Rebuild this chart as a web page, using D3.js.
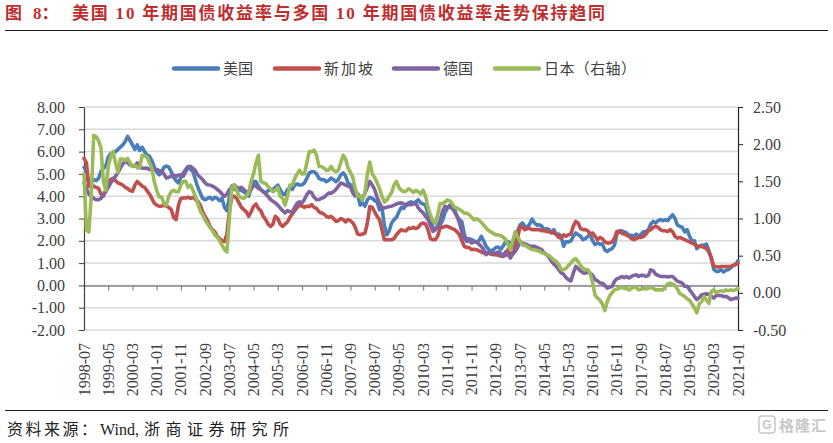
<!DOCTYPE html>
<html><head><meta charset="utf-8">
<script src="https://cdn.jsdelivr.net/npm/d3@7"></script>
<style>
html,body{margin:0;padding:0;background:#fff;}
svg{display:block;}
</style></head><body>
<svg id="chart" width="833" height="443"></svg>
<script>
// ---------------- data ----------------
const seriesNames = ["美国", "新加坡", "德国", "日本（右轴）"];
const seriesColors = ["#4a7ebb", "#c0504d", "#8064a2", "#9bbb59"];
const tickLabels = ["1998-07","1999-05","2000-03","2001-01","2001-11","2002-09","2003-07","2004-05","2005-03","2006-01","2006-11","2007-09","2008-07","2009-05","2010-03","2011-01","2011-11","2012-09","2013-07","2014-05","2015-03","2016-01","2016-11","2017-09","2018-07","2019-05","2020-03","2021-01"];
const leftTicks = [-2, -1, 0, 1, 2, 3, 4, 5, 6, 7, 8];
const rightTicks = [-0.5, 0, 0.5, 1, 1.5, 2, 2.5];

// monthly values, 1998-07 .. 2021-01
const us = [
  5.3, 5.1, 4.5, 4.6, 4.75, 4.7,
  4.8, 5.1, 5.25, 5.35, 5.75, 5.9, 5.95, 6.0, 6.1, 6.2, 6.3, 6.45,
  6.68, 6.5, 6.3, 6.1, 6.3, 6.05, 6.2, 6.0, 5.85, 5.8, 5.6, 5.3,
  5.1, 4.96, 5.05, 5.3, 5.35, 5.3, 5.1, 4.85, 4.7, 4.6, 4.85, 5.04,
  5.2, 5.34, 5.2, 5.1, 4.74, 4.4, 4.14, 3.9, 3.84, 3.9, 3.95, 3.85,
  3.95, 3.9, 3.8, 3.9, 3.5, 3.35, 3.95, 4.45, 4.3, 4.35, 4.3, 4.25,
  4.2, 4.1, 4.0, 4.4, 4.66, 4.66, 4.45, 4.3, 4.2, 4.15, 4.25, 4.3,
  4.3, 4.4, 4.5, 4.3, 4.1, 4.07, 4.3, 4.35, 4.3, 4.5, 4.55, 4.5,
  4.5, 4.6, 4.8, 5.04, 5.11, 5.1, 5.0, 4.8, 4.74, 4.75, 4.65, 4.7,
  4.81, 4.75, 4.65, 4.75, 4.96, 5.05, 4.9, 4.6, 4.51, 4.5, 4.14, 4.05,
  3.6, 3.7, 3.55, 3.84, 3.95, 3.9, 3.8, 3.75, 3.39, 3.5, 2.7, 2.27,
  2.45, 2.8, 2.95, 3.05, 3.3, 3.5, 3.45, 3.6, 3.7, 3.75, 3.7, 3.75,
  3.84, 3.7, 3.65, 3.6, 3.2, 2.95, 2.6, 2.5, 2.65, 2.7, 2.9, 3.25,
  3.45, 3.6, 3.45, 3.4, 3.1, 2.95, 2.85, 2.3, 1.97, 2.1, 2.05, 2.0,
  1.95, 2.0, 2.2, 2.0, 1.75, 1.62, 1.52, 1.6, 1.7, 1.72, 1.62, 1.75,
  1.95, 1.97, 1.9, 1.72, 2.1, 2.45, 2.7, 2.8, 2.65, 2.6, 2.75, 2.97,
  2.8, 2.7, 2.72, 2.65, 2.5, 2.55, 2.5, 2.35, 2.5, 2.27, 2.3, 2.2,
  1.75, 1.97, 1.95, 2.0, 2.2, 2.35, 2.27, 2.2, 2.05, 2.1, 2.2, 2.27,
  2.0, 1.83, 1.9, 1.85, 1.85, 1.6, 1.52, 1.6, 1.65, 1.8, 2.3, 2.45,
  2.45, 2.4, 2.35, 2.25, 2.25, 2.2, 2.3, 2.2, 2.3, 2.4, 2.42, 2.5,
  2.75, 2.87, 2.8, 2.9, 2.95, 2.9, 2.95, 2.9, 3.05, 3.17, 3.0, 2.7,
  2.65, 2.6, 2.4, 2.5, 2.2, 2.0, 2.0, 1.65, 1.75, 1.8, 1.8, 1.85,
  1.55, 1.2, 0.72, 0.63, 0.63, 0.7, 0.6, 0.68, 0.7, 0.8, 0.88, 0.95,
  1.1
];
const singapore = [
  5.7, 5.5, 4.45, 4.4, 4.45, 4.4,
  4.35, 4.1, 4.0, 4.3, 4.55, 4.75, 4.8, 4.7, 4.6, 4.55, 4.5, 4.4,
  4.35, 4.25, 4.22, 4.5, 4.66, 4.55, 4.45, 4.4, 4.25, 4.1, 3.9, 3.69,
  3.6, 3.55, 3.55, 3.6, 3.55, 3.5, 3.4, 3.05, 2.95, 3.6, 3.9, 3.92,
  3.92, 3.95, 3.9, 3.95, 3.85, 3.77, 3.6, 3.3, 3.09, 2.9, 2.65, 2.5,
  2.4, 2.2, 2.1, 2.0, 1.97, 2.3, 3.3, 3.95, 4.0, 3.9, 3.7, 3.5,
  3.4, 3.3, 3.1, 3.3, 3.55, 3.65, 3.45, 3.35, 3.1, 2.95, 2.75, 2.65,
  2.75, 3.1, 3.0, 2.75, 2.65, 2.75, 2.85, 3.05, 3.2, 3.35, 3.5, 3.6,
  3.55, 3.5, 3.55, 3.54, 3.62, 3.5, 3.45, 3.3, 3.25, 3.2, 3.1, 3.05,
  3.1, 3.0, 2.87, 2.9, 3.0, 2.95, 2.85, 2.95, 2.9, 2.8, 2.6, 2.3,
  2.27, 2.3, 2.35, 2.8, 3.54, 3.5, 3.3, 3.1, 2.95, 2.5, 2.05, 2.05,
  2.05, 2.05, 2.1, 2.27, 2.4, 2.5, 2.45, 2.45, 2.57, 2.55, 2.6, 2.55,
  2.6, 2.75, 2.8, 2.75, 2.5, 2.1, 2.05, 2.05, 2.2, 2.57, 2.6, 2.65,
  2.65, 2.6, 2.55, 2.5, 2.4, 2.27, 2.0, 1.75, 1.7, 1.7, 1.6, 1.62,
  1.6, 1.55, 1.5, 1.45, 1.45, 1.45, 1.4, 1.38, 1.38, 1.35, 1.32, 1.3,
  1.35, 1.6, 1.45, 1.4, 1.7, 2.12, 2.65, 2.6, 2.5, 2.55, 2.55, 2.5,
  2.5, 2.5, 2.5, 2.45, 2.45, 2.42, 2.4, 2.4, 2.35, 2.3, 2.15, 2.12,
  2.27, 2.2, 2.27, 2.3, 2.65, 2.87, 2.8, 2.55, 2.5, 2.5, 2.45, 2.3,
  2.35, 2.2, 2.05, 2.15, 2.1, 1.95, 1.9, 1.9, 1.95, 2.1, 2.42, 2.4,
  2.35, 2.3, 2.25, 2.2, 2.1, 2.05, 2.1, 2.15, 2.15, 2.2, 2.3, 2.45,
  2.5, 2.6, 2.65, 2.6, 2.5, 2.45, 2.45, 2.42, 2.5, 2.4, 2.2, 2.12,
  2.15, 2.1, 2.05, 2.0, 1.95, 1.9, 1.85, 1.75, 1.75, 1.75, 1.7, 1.65,
  1.5, 1.23, 0.85, 0.85, 0.82, 0.85, 0.85, 0.85, 0.85, 0.85, 0.9, 0.93,
  1.0
];
const germany = [
  4.59, 4.35, 4.1, 3.99, 3.9, 3.84,
  3.84, 3.9, 4.07, 4.2, 4.4, 4.59, 4.75, 4.89, 5.05, 5.26, 5.45, 5.56,
  5.5, 5.41, 5.34, 5.35, 5.49, 5.35, 5.26, 5.25, 5.26, 5.2, 5.19, 5.2,
  5.2, 5.15, 5.11, 5.0, 4.81, 4.85, 4.89, 4.95, 4.89, 4.95, 4.95, 4.9,
  5.1, 5.3, 5.34, 5.25, 5.15, 4.95, 4.85, 4.74, 4.6, 4.51, 4.5, 4.45,
  4.4, 4.3, 4.22, 4.1, 3.99, 4.1, 4.29, 4.4, 4.51, 4.4, 4.35, 4.4,
  4.3, 4.2, 4.14, 4.3, 4.5, 4.45, 4.35, 4.29, 4.2, 4.1, 3.99, 3.85,
  3.77, 3.7, 3.6, 3.47, 3.35, 3.25, 3.35, 3.3, 3.3, 3.5, 3.69, 3.75,
  3.69, 3.85, 4.07, 4.21, 4.15, 3.95, 3.84, 3.85, 3.9, 3.95, 4.05, 4.14,
  4.14, 4.2, 4.3, 4.45, 4.59, 4.55, 4.5, 4.45, 4.4, 4.14, 4.0, 4.1,
  3.99, 3.95, 4.14, 4.4, 4.66, 4.5, 4.3, 3.95, 3.69, 3.5, 3.47, 3.5,
  3.54, 3.55, 3.6, 3.65, 3.69, 3.7, 3.65, 3.62, 3.62, 3.62, 3.65, 3.69,
  3.47, 3.35, 3.25, 3.1, 2.95, 2.7, 2.42, 2.5, 2.65, 2.9, 3.32, 3.54,
  3.5, 3.54, 3.45, 3.3, 3.1, 2.8, 2.4, 2.05, 2.1, 2.0, 1.9, 1.95,
  1.95, 1.85, 1.75, 1.6, 1.38, 1.45, 1.5, 1.45, 1.45, 1.5, 1.45, 1.3,
  1.5, 1.4, 1.23, 1.4, 1.52, 1.7, 1.97, 1.9, 1.85, 1.83, 1.75, 1.75,
  1.75, 1.7, 1.65, 1.6, 1.45, 1.38, 1.25, 1.08, 0.95, 0.85, 0.7, 0.56,
  0.5, 0.35, 0.26, 0.2, 0.55, 0.85, 0.75, 0.65, 0.56, 0.55, 0.6, 0.55,
  0.45, 0.26, 0.2, 0.11, 0.1, 0.0, -0.12, -0.08, -0.05, 0.18, 0.3, 0.33,
  0.4, 0.35, 0.4, 0.33, 0.4, 0.45, 0.48, 0.4, 0.45, 0.45, 0.4, 0.45,
  0.7, 0.65, 0.5, 0.45, 0.4, 0.4, 0.4, 0.38, 0.4, 0.4, 0.3, 0.18,
  0.15, 0.1, -0.04, -0.04, -0.2, -0.34, -0.5, -0.64, -0.55, -0.42, -0.4, -0.38,
  -0.4, -0.5, -0.57, -0.45, -0.45, -0.45, -0.5, -0.49, -0.55, -0.64, -0.6, -0.57,
  -0.57
];
const japan = [
  1.6, 0.85, 0.82, 1.3, 2.12, 2.1,
  2.05, 1.95, 1.5, 1.38, 1.7, 1.83, 1.9, 1.75, 1.62, 1.8, 1.8, 1.78,
  1.81, 1.75, 1.7, 1.72, 1.68, 1.68, 1.85, 1.84, 1.83, 1.75, 1.68, 1.5,
  1.38, 1.29, 1.29, 1.2, 1.18, 1.3, 1.36, 1.38, 1.36, 1.36, 1.45, 1.5,
  1.5, 1.42, 1.45, 1.38, 1.3, 1.2, 1.1, 1.05, 0.98, 0.93, 0.88, 0.84,
  0.78, 0.75, 0.7, 0.64, 0.58, 0.55, 1.0, 1.42, 1.45, 1.38, 1.3, 1.28,
  1.27, 1.3, 1.35, 1.5, 1.6, 1.75, 1.85, 1.5, 1.48, 1.47, 1.43, 1.4,
  1.36, 1.38, 1.42, 1.3, 1.27, 1.18, 1.3, 1.45, 1.45, 1.54, 1.6, 1.65,
  1.6, 1.6, 1.75, 1.9, 1.9, 1.92, 1.85, 1.7, 1.7, 1.68, 1.65, 1.65,
  1.7, 1.65, 1.63, 1.65, 1.75, 1.85, 1.8, 1.68, 1.62, 1.55, 1.4, 1.3,
  1.3, 1.25, 1.35, 1.6, 1.76, 1.6, 1.55, 1.48, 1.4, 1.3, 1.22, 1.25,
  1.3, 1.35, 1.45, 1.5, 1.42, 1.38, 1.36, 1.37, 1.4, 1.38, 1.35, 1.38,
  1.36, 1.33, 1.38, 1.3, 1.15, 1.05, 0.97, 0.93, 1.05, 1.2, 1.2, 1.22,
  1.25, 1.24, 1.2, 1.15, 1.14, 1.12, 1.1, 1.07, 1.07, 1.05, 1.02, 0.98,
  1.0, 0.98, 0.95, 0.91, 0.87, 0.84, 0.82, 0.8, 0.78, 0.78, 0.77, 0.75,
  0.72, 0.65, 0.58, 0.7, 0.82, 0.75, 0.7, 0.64, 0.64, 0.62, 0.6, 0.58,
  0.58, 0.57, 0.56, 0.54, 0.53, 0.51, 0.5, 0.47, 0.44, 0.42, 0.38, 0.31,
  0.31, 0.33, 0.37, 0.4, 0.44, 0.46, 0.42, 0.37, 0.33, 0.31, 0.31, 0.26,
  0.13, -0.03, -0.07, -0.1, -0.15, -0.24, -0.12, -0.04, 0.0, 0.04, 0.05, 0.06,
  0.07, 0.06, 0.06, 0.04, 0.06, 0.08, 0.07, 0.04, 0.05, 0.06, 0.05, 0.06,
  0.07, 0.06, 0.04, 0.04, 0.04, 0.04, 0.08, 0.12, 0.13, 0.12, 0.1, 0.05,
  -0.01, -0.03, -0.05, -0.08, -0.1, -0.15, -0.2, -0.27, -0.15, -0.12, -0.05, -0.1,
  -0.14, 0.02, 0.04, 0.0, 0.02, 0.03, 0.02, 0.04, 0.03, 0.04, 0.03, 0.04,
  0.06
];

// month categories 1998-07 .. 2021-01
const months = [];
for (let y = 1998, m = 7; y < 2021 || (y === 2021 && m <= 1);) {
  months.push(y + "-" + String(m).padStart(2, "0"));
  m++; if (m > 12) { m = 1; y++; }
}

// ---------------- drawing ----------------
const svg = d3.select("#chart");
const serif = "'Liberation Serif','Times New Roman','Noto Sans CJK SC',serif";
const cjk = "'Liberation Serif','Noto Sans CJK SC',sans-serif";
const textCol = "#404040";
const titleCol = "#bd2f2f";

const x = d3.scalePoint().domain(months).range([84, 738]);
const yL = d3.scaleLinear().domain([-2, 8]).range([330, 107]);
const yR = d3.scaleLinear().domain([-0.5, 2.5]).range([330, 107]);

// title
function titleText(xp, txt, len) {
  const t = svg.append("text").attr("x", xp).attr("y", 19)
    .attr("font-family", cjk).attr("font-weight", "bold").attr("font-size", 17)
    .attr("fill", titleCol).text(txt);
  if (len) t.attr("textLength", len).attr("lengthAdjust", "spacing");
}
titleText(5, "图");
titleText(33, "8：");
titleText(72, "美国 10 年期国债收益率与多国 10 年期国债收益率走势保持趋同", 533);
svg.append("line").attr("x1", 5).attr("x2", 828).attr("y1", 30.5).attr("y2", 30.5)
  .attr("stroke", "#222").attr("stroke-width", 1.2);

// gridlines
svg.append("g").selectAll("line").data(leftTicks).join("line")
  .attr("x1", 84).attr("x2", 738)
  .attr("y1", d => yL(d)).attr("y2", d => yL(d))
  .attr("stroke", "#d9d9d9").attr("stroke-width", 1.5);

// category axis at zero
const xAxis = svg.append("g").attr("transform", `translate(0,${yL(0)})`)
  .call(d3.axisBottom(x).tickValues(tickLabels).tickSize(5).tickSizeOuter(0).tickFormat(""));
xAxis.select(".domain").attr("stroke", "#868686").attr("stroke-width", 1.5);
xAxis.selectAll(".tick line").attr("stroke", "#868686").attr("stroke-width", 1.2);

// category labels at the bottom
svg.append("g").selectAll("text").data(tickLabels).join("text")
  .attr("transform", d => `translate(${x(d)},343) rotate(-90)`)
  .attr("text-anchor", "end").attr("dy", "0.35em")
  .attr("font-family", serif).attr("font-size", 16).attr("fill", textCol)
  .text(d => d);

// left axis
const fmt = d => d.toFixed(2);
const gL = svg.append("g").attr("transform", "translate(84,0)")
  .call(d3.axisLeft(yL).tickValues(leftTicks).tickSize(5).tickSizeOuter(0).tickPadding(14).tickFormat(fmt));
gL.select(".domain").attr("stroke", "#404040").attr("stroke-width", 1.2);
gL.selectAll(".tick line").attr("stroke", "#404040");
gL.selectAll("text").attr("font-family", serif).attr("font-size", 16).attr("fill", textCol);

// right axis
const gR = svg.append("g").attr("transform", "translate(738,0)")
  .call(d3.axisRight(yR).tickValues(rightTicks).tickSize(5).tickSizeOuter(0).tickPadding(10).tickFormat(fmt));
gR.select(".domain").attr("stroke", "#222").attr("stroke-width", 1.2);
gR.selectAll(".tick line").attr("stroke", "#222");
gR.selectAll("text").attr("font-family", serif).attr("font-size", 16).attr("fill", textCol);

// series
const seriesData = [us, singapore, germany, japan];
const seriesScales = [yL, yL, yL, yR];
seriesData.forEach((vals, k) => {
  const sc = seriesScales[k];
  const line = d3.line().x((d, i) => x(months[i])).y(d => sc(d));
  svg.append("path").datum(vals)
    .attr("d", line)
    .attr("fill", "none")
    .attr("stroke", seriesColors[k])
    .attr("stroke-width", 3.6)
    .attr("stroke-linejoin", "round")
    .attr("stroke-linecap", "round");
});

// legend
const legendLineX = [174, 275, 394, 495];
const legendTextLen = [30, 49, 30, 92];
const lg = svg.append("g");
seriesNames.forEach((name, k) => {
  lg.append("line").attr("x1", legendLineX[k]).attr("x2", legendLineX[k] + 44)
    .attr("y1", 68.5).attr("y2", 68.5)
    .attr("stroke", seriesColors[k]).attr("stroke-width", 4.5).attr("stroke-linecap", "round");
  lg.append("text").attr("x", legendLineX[k] + 49).attr("y", 74)
    .attr("font-family", cjk).attr("font-size", 15).attr("fill", textCol)
    .attr("textLength", legendTextLen[k]).attr("lengthAdjust", "spacing")
    .text(name);
});

// footer
svg.append("line").attr("x1", 5).attr("x2", 828).attr("y1", 410.5).attr("y2", 410.5)
  .attr("stroke", "#222").attr("stroke-width", 1.2);
function srcText(xp, txt, len) {
  const t = svg.append("text").attr("x", xp).attr("y", 435)
    .attr("font-family", cjk).attr("font-size", 16).attr("fill", "#222")
    .text(txt);
  if (len) t.attr("textLength", len).attr("lengthAdjust", "spacing");
}
srcText(7, "资料来源：", 90);
srcText(100, "Wind,");
srcText(144, "浙商证券研究所", 145);

// watermark
svg.append("rect").attr("x", 759).attr("y", 416).attr("width", 16).attr("height", 17).attr("rx", 3)
  .attr("fill", "none").attr("stroke", "#c8c8c8").attr("stroke-width", 1.5);
svg.append("text").attr("x", 767).attr("y", 429).attr("text-anchor", "middle")
  .attr("font-family", "'Liberation Sans',sans-serif").attr("font-weight", "bold").attr("font-size", 12)
  .attr("fill", "#c8c8c8").text("G");
svg.append("text").attr("x", 779).attr("y", 431)
  .attr("font-family", "'Noto Sans CJK SC',sans-serif").attr("font-weight", "bold").attr("font-size", 15)
  .attr("fill", "#c8c8c8").attr("textLength", 47).attr("lengthAdjust", "spacing")
  .text("格隆汇");
</script>
</body></html>
